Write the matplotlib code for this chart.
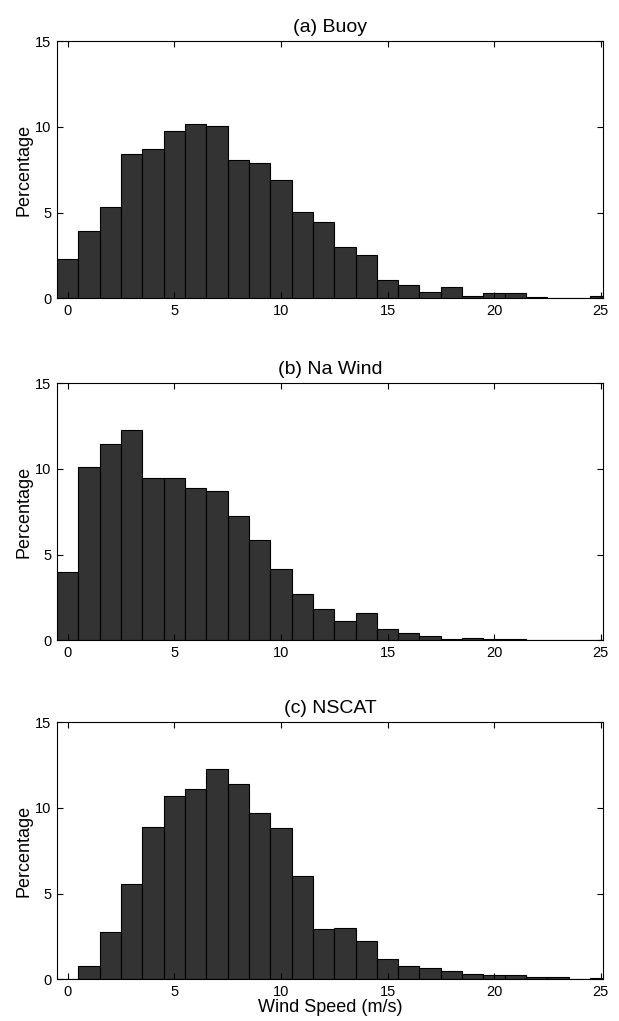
import numpy as np
import matplotlib
matplotlib.use('Agg')
import matplotlib.pyplot as plt

plt.rcParams['font.family'] = ['Liberation Sans', 'DejaVu Sans']

# bin centres (m/s)
speed = np.arange(0, 26)

# percentage per 1 m/s bin
buoy = [2.3, 3.9, 5.3, 8.4, 8.7, 9.75, 10.2, 10.05, 8.05, 7.9, 6.9, 5.05, 4.45,
        3.0, 2.5, 1.05, 0.75, 0.35, 0.65, 0.1, 0.3, 0.3, 0.05, 0.0, 0.02, 0.1]
nawind = [4.0, 10.1, 11.45, 12.3, 9.5, 9.5, 8.9, 8.7, 7.25, 5.85, 4.15, 2.7, 1.8,
          1.1, 1.6, 0.65, 0.4, 0.25, 0.05, 0.1, 0.05, 0.05, 0.0, 0.0, 0.0, 0.0]
nscat = [0.0, 0.75, 2.75, 5.55, 8.9, 10.7, 11.1, 12.25, 11.4, 9.7, 8.85, 6.0, 2.95,
         3.0, 2.2, 1.15, 0.75, 0.65, 0.45, 0.3, 0.25, 0.25, 0.15, 0.15, 0.03, 0.05]

titles = ['(a) Buoy', '(b) Na Wind', '(c) NSCAT']
series = [buoy, nawind, nscat]

fig = plt.figure(figsize=(6.19, 10.21), dpi=100)
bottoms = [0.708, 0.373, 0.041]
for i in range(3):
    ax = fig.add_axes([0.092, bottoms[i], 0.882, 0.2515])
    ax.bar(speed, series[i], width=1.0, color='#333333', edgecolor='black', linewidth=0.8)
    ax.set_xlim(-0.5, 25.1)
    ax.set_ylim(0, 15)
    ax.set_xticks([0, 5, 10, 15, 20, 25])
    ax.set_yticks([0, 5, 10, 15])
    ax.tick_params(direction='in', top=True, right=True, labelsize=10.5, length=4, pad=4)
    ax.set_title(titles[i], fontsize=14, pad=7)
    ax.set_ylabel('Percentage', fontsize=13, labelpad=2)
    for s in ax.spines.values():
        s.set_linewidth(0.8)
    if i == 2:
        ax.set_xlabel('Wind Speed (m/s)', fontsize=13, labelpad=0)

fig.savefig('out.png', dpi=100)
